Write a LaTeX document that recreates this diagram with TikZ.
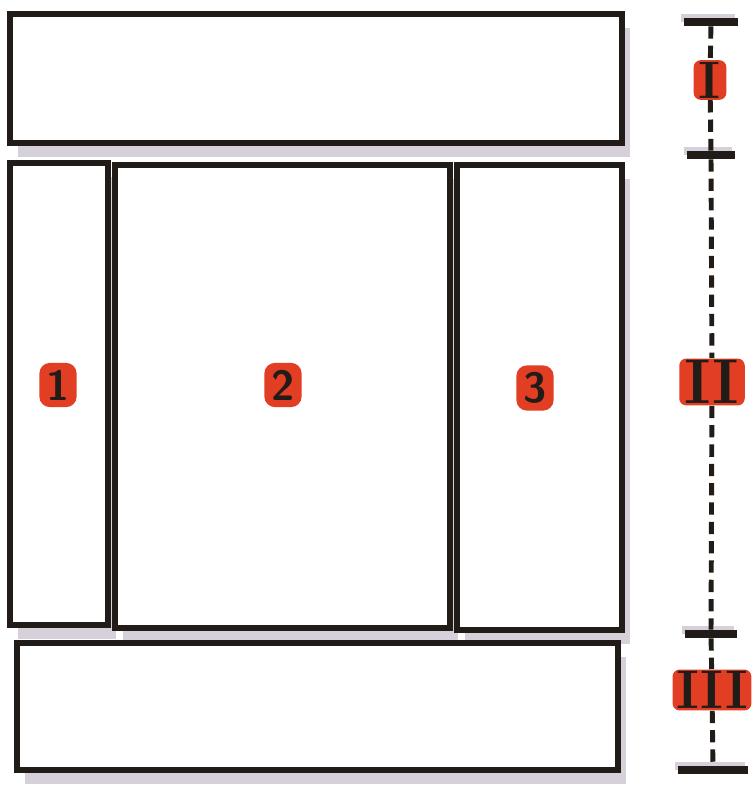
\documentclass[tikz,border=0pt]{standalone}
\usetikzlibrary{shadows,positioning}
\definecolor{inkblack}{RGB}{34,28,24}
\definecolor{markred}{RGB}{226,62,36}
\definecolor{shadegray}{RGB}{214,208,218}

\begin{document}
\begin{tikzpicture}[x=0.02cm,y=-0.02cm,
  panel/.style={rectangle,draw=inkblack,line width=3pt,fill=white,inner sep=0pt,
               drop shadow={shadow xshift=0.16cm,shadow yshift=-0.28cm,fill=shadegray,opacity=1}},
  numlabel/.style={rectangle,rounded corners=6pt,fill=markred,text=inkblack,
               font=\sffamily\bfseries\fontsize{24}{24}\selectfont,inner sep=4pt},
  romlabel/.style={rectangle,rounded corners=4pt,fill=markred,text=inkblack,
               font=\bfseries\fontsize{36}{36}\selectfont,inner xsep=3pt,inner ysep=1pt},
  tickbar/.style={rectangle,fill=inkblack,minimum height=4.5pt,inner sep=0pt,
               drop shadow={shadow xshift=-0.06cm,shadow yshift=0.08cm,fill=shadegray,opacity=1}},
  dimline/.style={inkblack,line width=2.8pt,dash pattern=on 7pt off 4pt}]
\useasboundingbox (0,0) rectangle (755,792);
% layout blocks
\node[panel,minimum width=12.24cm,minimum height=2.58cm] (top) at (316,78.5) {};
\node[panel,minimum width=1.96cm,minimum height=9.24cm]  (c1)  at (59,394)    {};
\node[panel,minimum width=6.70cm,minimum height=9.26cm]  (c2)  at (282.5,396.5) {};
\node[panel,minimum width=3.30cm,minimum height=9.30cm]  (c3)  at (539.5,397.5) {};
\node[panel,minimum width=12.02cm,minimum height=2.54cm] (bot) at (317.5,706.5) {};
\node[numlabel] (n1) at (58,385)  {1};
\node[numlabel] (n2) at (283,385) {2};
\node[numlabel] (n3) at (535,388) {3};
% height scale
\node[tickbar,minimum width=1.10cm] (t1) at (711,22)  {};
\node[tickbar,minimum width=0.96cm] (t2) at (711,155) {};
\node[tickbar,minimum width=1.06cm] (t3) at (711,634) {};
\node[tickbar,minimum width=1.40cm] (t4) at (713,770) {};
\node[romlabel,font=\bfseries\fontsize{30}{30}\selectfont] (r1) at (710,80) {I};
\node[romlabel] (r2) at (712,382) {II};
\node[romlabel,font=\bfseries\fontsize{31}{31}\selectfont,inner xsep=2pt] (r3) at (712,690) {III};
\draw[dimline] (t1) -- (r1);
\draw[dimline] (r1) -- (t2);
\draw[dimline] (t2) -- (r2);
\draw[dimline] (r2) -- (t3);
\draw[dimline] (t3) -- (r3);
\draw[dimline] (r3) -- (t4);
\end{tikzpicture}
\end{document}
